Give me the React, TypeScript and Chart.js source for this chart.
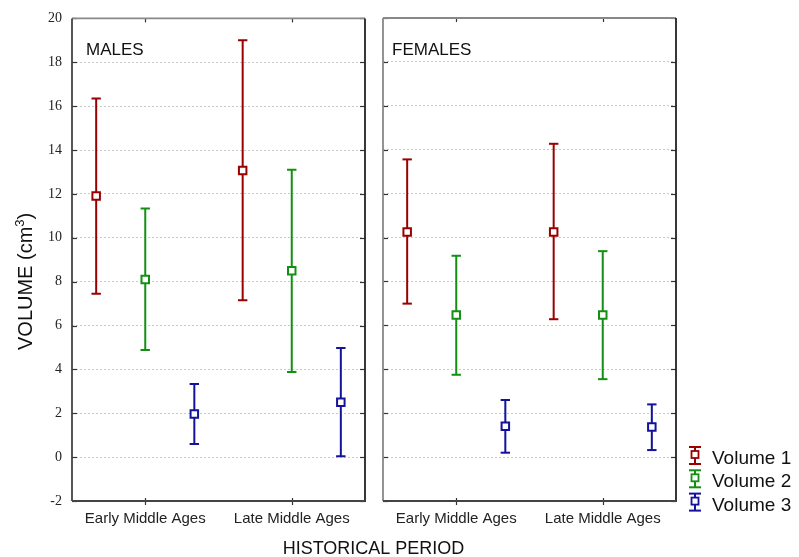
import React, { useEffect, useRef } from 'react';
import { Chart, registerables } from 'chart.js';
Chart.register(...registerables);

// ---------- data ----------
const periods = ['Early Middle Ages', 'Late Middle Ages'];
const panelTitles = ['MALES', 'FEMALES'];
const seriesNames = ['Volume 1', 'Volume 2', 'Volume 3'];
const yTickValues = [-2, 0, 2, 4, 6, 8, 10, 12, 14, 16, 18, 20];

// Males: [Early, Late]
const malesV1Mean = [11.9, 13.07];
const malesV1Upper = [16.35, 19.0];
const malesV1Lower = [7.45, 7.15];
const malesV2Mean = [8.1, 8.5];
const malesV2Upper = [11.33, 13.1];
const malesV2Lower = [4.88, 3.88];
const malesV3Mean = [1.97, 2.5];
const malesV3Upper = [3.33, 4.97];
const malesV3Lower = [0.6, 0.04];

// Females: [Early, Late]
const femalesV1Mean = [10.25, 10.25];
const femalesV1Upper = [13.56, 14.27];
const femalesV1Lower = [6.99, 6.28];
const femalesV2Mean = [6.47, 6.47];
const femalesV2Upper = [9.17, 9.38];
const femalesV2Lower = [3.75, 3.55];
const femalesV3Mean = [1.4, 1.37];
const femalesV3Upper = [2.6, 2.4];
const femalesV3Lower = [0.2, 0.32];

// ---------- styles ----------
const seriesColors = ['#990000', '#138f13', '#12129a'];
const seriesShift = [-0.335, 0, 0.335];
const SANS = '"Liberation Sans", Arial, sans-serif';
const SERIF = '"Liberation Serif", "Times New Roman", serif';

const panelData = [
  {
    means: [malesV1Mean, malesV2Mean, malesV3Mean],
    upper: [malesV1Upper, malesV2Upper, malesV3Upper],
    lower: [malesV1Lower, malesV2Lower, malesV3Lower],
  },
  {
    means: [femalesV1Mean, femalesV2Mean, femalesV3Mean],
    upper: [femalesV1Upper, femalesV2Upper, femalesV3Upper],
    lower: [femalesV1Lower, femalesV2Lower, femalesV3Lower],
  },
];

function line(ctx: CanvasRenderingContext2D, x1: number, y1: number, x2: number, y2: number) {
  ctx.beginPath();
  ctx.moveTo(x1, y1);
  ctx.lineTo(x2, y2);
  ctx.stroke();
}

function decorPlugin(panel: number) {
  return {
    id: 'panelDecor' + panel,
    afterDraw(chart: any) {
      const { ctx, chartArea: a, scales } = chart;
      const ys = scales.y;
      const xs = scales.x;
      ctx.save();
      ctx.strokeStyle = '#333';
      ctx.lineWidth = 1.2;
      ys.ticks.forEach((t: any) => {
        const py = Math.round(ys.getPixelForValue(t.value)) + 0.5;
        line(ctx, a.left, py, a.left + 5, py);
        line(ctx, a.right - 5, py, a.right, py);
      });
      xs.ticks.forEach((t: any) => {
        const px = Math.round(xs.getPixelForValue(t.value)) + 0.5;
        line(ctx, px, a.top, px, a.top + 4);
        line(ctx, px, a.bottom - 3, px, a.bottom + 4);
      });
      // borders
      ctx.lineWidth = 1.8;
      ctx.strokeStyle = '#888';
      line(ctx, a.left, a.top, a.right, a.top);
      ctx.strokeStyle = panel === 0 ? '#444' : '#888';
      line(ctx, a.left, a.top, a.left, a.bottom);
      ctx.strokeStyle = '#222';
      line(ctx, a.right, a.top, a.right, a.bottom + 1);
      ctx.strokeStyle = '#444';
      line(ctx, a.left, a.bottom, a.right, a.bottom);
      // panel title
      ctx.font = '17px ' + SANS;
      ctx.fillStyle = '#111';
      ctx.textAlign = 'left';
      ctx.textBaseline = 'alphabetic';
      ctx.fillText(panelTitles[panel], a.left + (panel === 0 ? 14 : 9), 55);

      if (panel === 0) {
        // y axis title
        ctx.save();
        ctx.translate(32, 350);
        ctx.rotate(-Math.PI / 2);
        ctx.font = '20px ' + SANS;
        ctx.fillStyle = '#111';
        const t1 = 'VOLUME (cm';
        ctx.fillText(t1, 0, 0);
        let w = ctx.measureText(t1).width;
        ctx.font = '13px ' + SANS;
        ctx.fillText('3', w, -8);
        w += ctx.measureText('3').width;
        ctx.font = '20px ' + SANS;
        ctx.fillText(')', w, 0);
        ctx.restore();
        // x axis title
        ctx.font = '18px ' + SANS;
        ctx.fillStyle = '#111';
        ctx.textAlign = 'center';
        ctx.fillText('HISTORICAL PERIOD', 373.5, 554);
      } else {
        // legend
        seriesNames.forEach((name, i) => {
          const base = 464 + i * 23.3;
          const cx = 695;
          const top = base - 17;
          const bot = base;
          ctx.strokeStyle = seriesColors[i];
          ctx.lineWidth = 2;
          line(ctx, cx, top, cx, bot);
          line(ctx, cx - 6, top, cx + 6, top);
          line(ctx, cx - 6, bot, cx + 6, bot);
          const sy = (top + bot) / 2 - 1;
          ctx.fillStyle = '#fff';
          ctx.fillRect(cx - 3.5, sy - 3.5, 7, 7);
          ctx.lineWidth = 1.8;
          ctx.strokeRect(cx - 3.5, sy - 3.5, 7, 7);
          ctx.font = '19px ' + SANS;
          ctx.fillStyle = '#111';
          ctx.textAlign = 'left';
          ctx.fillText(name, 712, base);
        });
      }
      ctx.restore();
    },
  };
}

function makeConfig(panel: number): any {
  const d = panelData[panel];
  const datasets: any[] = [];
  seriesNames.forEach((name, s) => {
    datasets.push({
      type: 'scatter',
      label: name,
      data: periods.map((_, i) => ({ x: i + seriesShift[s], y: d.means[s][i] })),
      pointStyle: 'rect',
      pointRadius: 5.3,
      pointBackgroundColor: '#ffffff',
      pointBorderColor: seriesColors[s],
      pointBorderWidth: 2,
      showLine: false,
      order: 0,
    });
  });
  seriesNames.forEach((name, s) => {
    const pts: any[] = [];
    periods.forEach((_, i) => {
      if (i > 0) pts.push({ x: i - 0.5, y: null });
      pts.push({ x: i + seriesShift[s], y: d.lower[s][i] });
      pts.push({ x: i + seriesShift[s], y: d.upper[s][i] });
    });
    datasets.push({
      type: 'scatter',
      label: name + ' range',
      data: pts,
      showLine: true,
      spanGaps: false,
      borderColor: seriesColors[s],
      borderWidth: 2,
      pointStyle: 'line',
      pointRadius: 4.7,
      pointBorderColor: seriesColors[s],
      pointBorderWidth: 2,
      order: 1,
    });
  });

  return {
    type: 'scatter',
    data: { datasets },
    plugins: [decorPlugin(panel)],
    options: {
      responsive: false,
      animation: false,
      events: [],
      layout: {
        padding: panel === 0
          ? { left: 0, right: 434, top: 18, bottom: 0 }
          : { left: 383, right: 123, top: 18, bottom: 0 },
      },
      plugins: { legend: { display: false }, tooltip: { enabled: false } },
      scales: {
        x: {
          type: 'linear',
          min: -0.5,
          max: 1.5,
          afterBuildTicks: (s: any) => {
            s.ticks = periods.map((_, i) => ({ value: i }));
          },
          afterFit: (s: any) => {
            s.height = 56;
          },
          grid: { display: false, drawTicks: false },
          border: { display: false },
          ticks: {
            autoSkip: false,
            maxRotation: 0,
            padding: 9,
            color: '#222',
            font: { family: SANS, size: 15 },
            callback: (v: any) => periods[Math.round(v)] ?? '',
          },
        },
        y: {
          type: 'linear',
          min: -2,
          max: 20,
          afterBuildTicks: (s: any) => {
            s.ticks = yTickValues.map((v) => ({ value: v }));
          },
          afterFit: (s: any) => {
            s.width = panel === 0 ? 72 : 0;
          },
          grid: { color: '#c9c9c9', lineWidth: 1, drawTicks: false },
          border: { display: false, dash: [2, 2] },
          ticks: {
            display: panel === 0,
            padding: 10,
            color: '#222',
            font: { family: SERIF, size: 14 },
          },
        },
      },
    },
  };
}

export default function App() {
  const leftRef = useRef<HTMLCanvasElement>(null);
  const rightRef = useRef<HTMLCanvasElement>(null);
  useEffect(() => {
    const c1 = new Chart(leftRef.current as HTMLCanvasElement, makeConfig(0));
    const c2 = new Chart(rightRef.current as HTMLCanvasElement, makeConfig(1));
    return () => {
      c1.destroy();
      c2.destroy();
    };
  }, []);
  const cs: React.CSSProperties = { position: 'absolute', left: 0, top: 0, width: 799, height: 557 };
  return (
    <div style={{ position: 'fixed', left: 0, top: 0, width: 799, height: 557, background: '#fff' }}>
      <canvas ref={leftRef} width={799} height={557} style={cs} />
      <canvas ref={rightRef} width={799} height={557} style={cs} />
    </div>
  );
}
